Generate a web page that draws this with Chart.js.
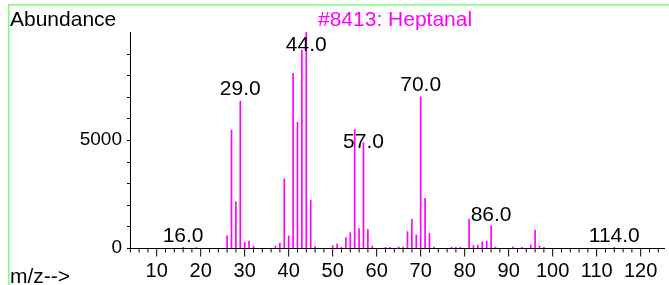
<!DOCTYPE html>
<html><head><meta charset="utf-8">
<script src="https://cdn.jsdelivr.net/npm/chart.js@4"></script>
<style>html,body{margin:0;padding:0;background:#fff;overflow:hidden}canvas{display:block}</style>
</head><body>
<canvas id="c" width="669" height="285"></canvas>
<script>
// ---- data ----
const mzValues = [16, 19, 26, 27, 28, 29, 30, 31, 32, 37, 38, 39, 40, 41, 42, 43, 44, 45, 46,
  50, 51, 52, 53, 54, 55, 56, 57, 58, 59, 62, 63, 65, 66, 67, 68, 69, 70, 71, 72, 73,
  77, 78, 79, 81, 82, 83, 84, 85, 86, 87, 91, 93, 95, 96, 97, 98, 114];
const abundanceValues = [30, 20, 570, 5460, 2140, 6800, 260, 320, 90, 90, 220, 3200, 560, 8090, 5820, 9150, 10000, 2220, 60,
  110, 185, 30, 480, 710, 5490, 900, 4880, 860, 90, 30, 30, 50, 40, 760, 1340, 600, 7000, 2300, 680, 40,
  30, 30, 30, 1340, 125, 140, 290, 310, 1030, 40, 50, 30, 140, 830, 90, 30, 30];
const xTickLabels = [10, 20, 30, 40, 50, 60, 70, 80, 90, 100, 110, 120];
const yTickLabels = [0, 5000];
const peakLabelMz = [16, 29, 44, 57, 70, 86, 114];
const peakLabelLevel = [260, 7080, 9120, 4630, 7270, 1250, 260];
const compoundTitle = '#8413: Heptanal';
const yAxisTitle = 'Abundance';
const xAxisTitle = 'm/z-->';

const FONT = "'Liberation Sans', Arial, sans-serif";
const MAGENTA = '#ff00ff';

const decorPlugin = {
  id: 'decor',
  beforeDraw(chart) {
    const ctx = chart.ctx;
    ctx.save();
    ctx.fillStyle = 'rgb(128,255,128)';
    ctx.fillRect(8, 4, 661, 1.6);
    ctx.fillRect(8, 4, 1.6, 281);
    ctx.restore();
  },
  afterDraw(chart) {
    const ctx = chart.ctx;
    const xs = chart.scales.x, ys = chart.scales.y;
    const base = ys.getPixelForValue(0);
    ctx.save();
    ctx.strokeStyle = '#000';
    ctx.lineWidth = 1;
    // x minor / major ticks
    for (let v = 4; v <= 124; v += 2) {
      const px = xs.getPixelForValue(v);
      const len = (v % 10 === 0) ? 8.5 : 4.5;
      ctx.beginPath();
      ctx.moveTo(px, base);
      ctx.lineTo(px, base + len);
      ctx.stroke();
    }
    // y minor ticks
    const left = xs.left;
    for (let v = 0; v <= 9000; v += 1000) {
      const py = Math.round(ys.getPixelForValue(v)) + 0.5;
      ctx.beginPath();
      ctx.moveTo(left - 3, py);
      ctx.lineTo(left, py);
      ctx.stroke();
    }
    // texts
    ctx.font = '21px ' + FONT;
    ctx.textBaseline = 'alphabetic';
    ctx.textAlign = 'left';
    ctx.fillStyle = '#000';
    ctx.fillText(yAxisTitle, 10, 26);
    ctx.fillText(xAxisTitle, 10, 283);
    ctx.fillStyle = MAGENTA;
    ctx.fillText(compoundTitle, 318, 26);
    // peak labels
    ctx.fillStyle = '#000';
    ctx.textAlign = 'center';
    for (let i = 0; i < peakLabelMz.length; i++) {
      const px = xs.getPixelForValue(peakLabelMz[i]);
      const py = ys.getPixelForValue(peakLabelLevel[i]);
      ctx.fillText(peakLabelMz[i].toFixed(1), px, py);
    }
    ctx.restore();
  }
};

new Chart(document.getElementById('c'), {
  type: 'bar',
  data: {
    datasets: [{
      data: mzValues.map((m, i) => ({ x: m, y: abundanceValues[i] })),
      backgroundColor: MAGENTA,
      borderWidth: 0,
      barThickness: 1
    }]
  },
  options: {
    responsive: false,
    animation: false,
    events: [],
    layout: { padding: { top: 32, right: 5, left: 0, bottom: 0 } },
    plugins: { legend: { display: false }, tooltip: { enabled: false }, title: { display: false } },
    scales: {
      x: {
        type: 'linear',
        min: 3.93,
        max: 125.3,
        offset: false,
        grid: { display: false, drawTicks: false, offset: false },
        border: { display: true, color: '#000', width: 1 },
        afterBuildTicks(s) { s.ticks = xTickLabels.map(v => ({ value: v })); },
        afterFit(s) { s.height = 37; },
        ticks: { color: '#000', font: { family: FONT, size: 20 }, padding: 11, maxRotation: 0, autoSkip: false,
          callback: v => String(v) }
      },
      y: {
        type: 'linear',
        min: 0,
        max: 10000,
        grid: { display: false, drawTicks: false },
        border: { display: true, color: '#000', width: 1 },
        afterBuildTicks(s) { s.ticks = yTickLabels.map(v => ({ value: v })); },
        afterFit(s) { s.width = 130; },
        ticks: { color: '#000', font: { family: FONT, size: 19 }, padding: 8,
          callback: v => String(v) }
      }
    }
  },
  plugins: [decorPlugin]
});
</script>
</body></html>
